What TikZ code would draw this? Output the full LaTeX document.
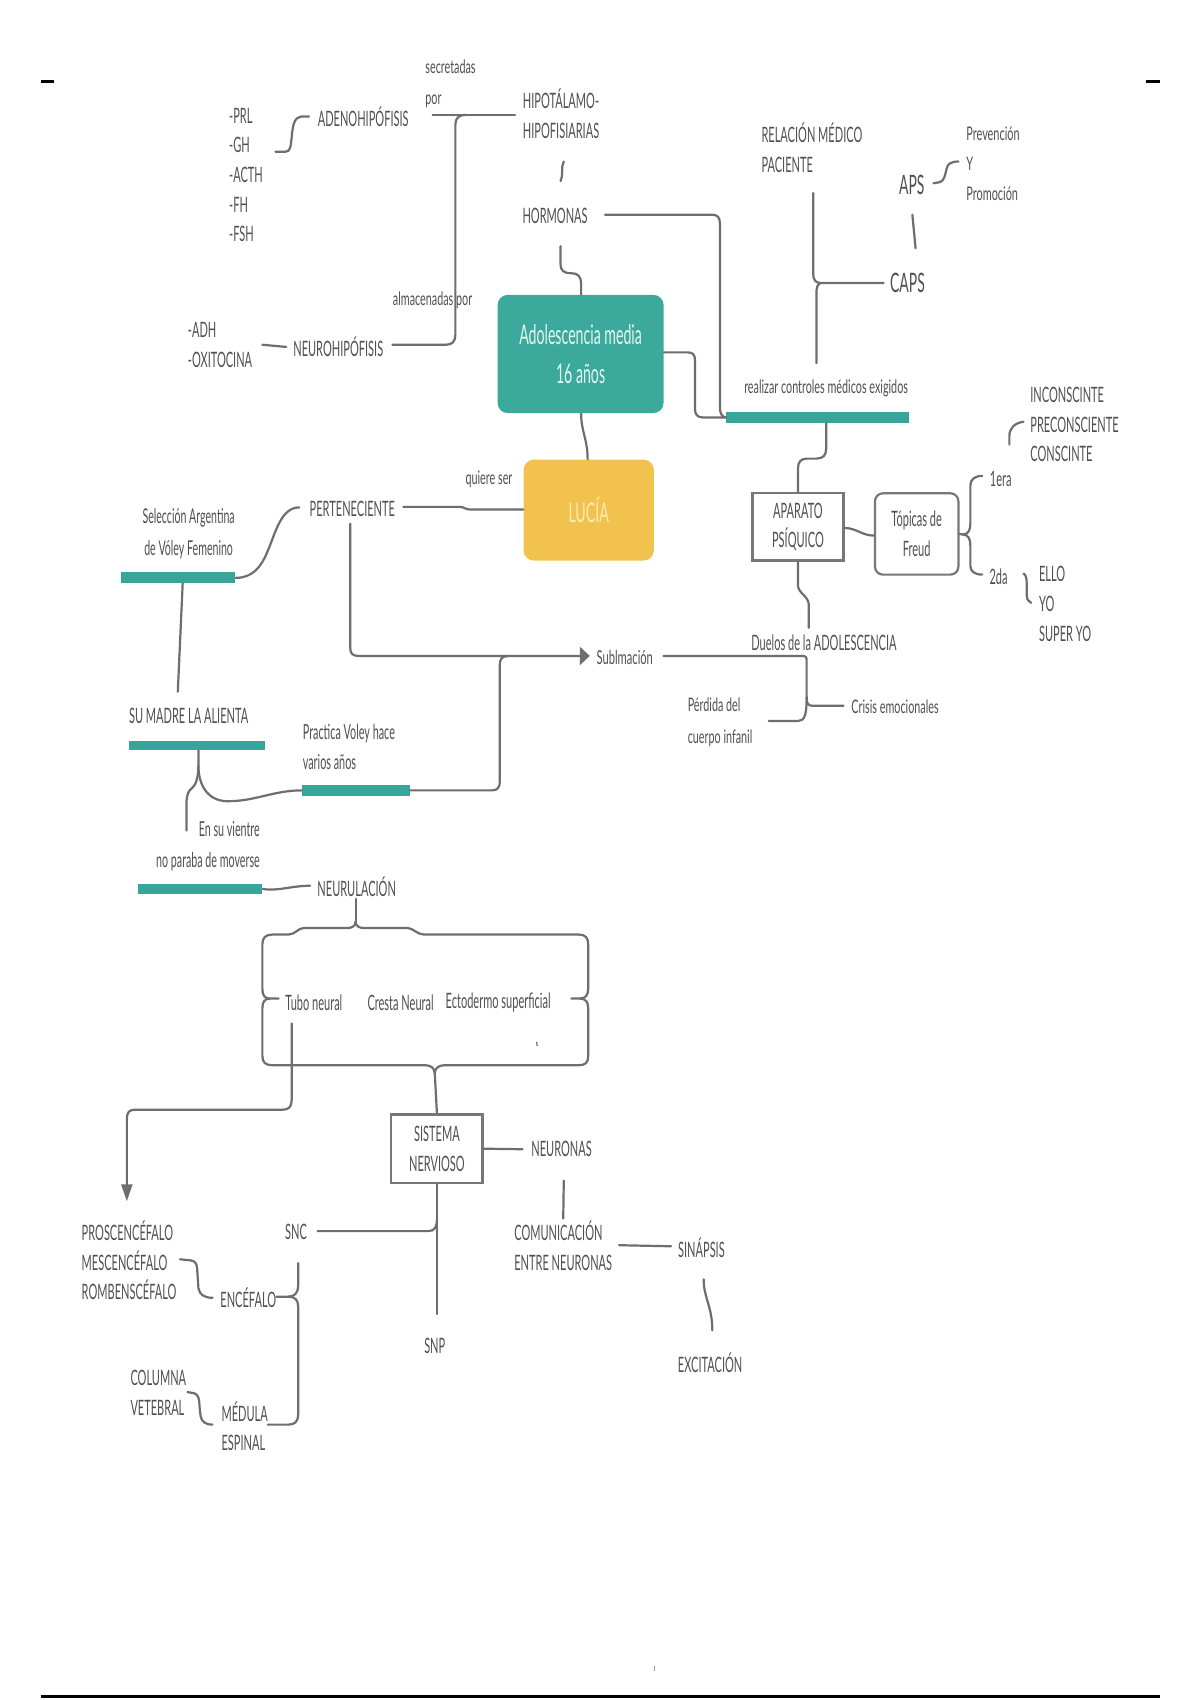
\documentclass[tikz,border=0pt]{standalone}
\usepackage{fontspec}
\setmainfont{Lato}[FakeStretch=0.52]
\newfontfamily\altfam{Lato}[FakeStretch=0.58]
\usetikzlibrary{arrows.meta}
\definecolor{txtgray}{HTML}{505050}
\definecolor{linegray}{HTML}{6E6E6E}
\definecolor{boxgray}{HTML}{777777}
\definecolor{tealc}{HTML}{3BA99C}
\definecolor{tealbarc}{HTML}{38A59B}
\definecolor{yellowc}{HTML}{F2C24F}
\definecolor{tealtxt}{HTML}{E4F6F2}
\definecolor{yellowtxt}{HTML}{FBEBB3}
\newcommand\myN{\fontsize{10.6}{14.9}\selectfont}
\newcommand\myS{\altfam\fontsize{9.3}{15.7}\selectfont}
\newcommand\myP{\altfam\fontsize{9.4}{14.9}\selectfont}
\newcommand\myB{\fontsize{13.6}{19.5}\selectfont}
\newcommand\myA{\fontsize{13.4}{15}\selectfont}
\tikzset{
  txt/.style={inner sep=0pt, text=txtgray, font=\myN},
  stxt/.style={txt, font=\myS},
  con/.style={draw=linegray, line width=1.1pt, line cap=round, line join=round},
  barn/.style={fill=tealbarc, inner sep=0pt},
  tealbox/.style={fill=tealc, rounded corners=5pt, text=tealtxt, font=\myB, align=center, inner sep=0pt},
  yellowbox/.style={fill=yellowc, rounded corners=5pt, text=yellowtxt, font=\myB, align=center, inner sep=0pt},
  sqbox/.style={draw=boxgray, line width=1.1pt, text=txtgray, font=\myN, align=center, inner sep=0pt},
  rbox/.style={sqbox, rounded corners=4pt},
}
\begin{document}
\begin{tikzpicture}[x=0.542pt, y=-0.542pt]
\fill[white] (0,0) rectangle (1107,1568);
\useasboundingbox (0,0) rectangle (1107,1568);

% ---------- boxes ----------
\node[tealbox, minimum width={153*0.542pt}, minimum height={109*0.542pt}] (adol) at (535.5,326.5) {Adolescencia media\\16 años};
\node[yellowbox, minimum width={120*0.542pt}, minimum height={93*0.542pt}] (lucia) at (543,470.5) {LUCÍA};
\node[sqbox, minimum width={84*0.542pt}, minimum height={62*0.542pt}] (apar) at (736,486) {APARATO\\PSÍQUICO};
\node[rbox, minimum width={77*0.542pt}, minimum height={75*0.542pt}] (topi) at (845.5,492.5) {Tópicas de\\Freud};
\node[sqbox, minimum width={84*0.542pt}, minimum height={63*0.542pt}] (sist) at (403,1059.5) {SISTEMA\\NERVIOSO};

% ---------- teal bars ----------
\node[barn, minimum width={168*0.542pt}, minimum height={10*0.542pt}] (breal) at (754,385) {};
\node[barn, minimum width={105*0.542pt}, minimum height={10*0.542pt}] (bsel) at (164.5,533) {};
\node[barn, minimum width={125*0.542pt}, minimum height={9*0.542pt}] (bmadre) at (181.5,687.5) {};
\node[barn, minimum width={99*0.542pt}, minimum height={10*0.542pt}] (bprac) at (328.5,729) {};
\node[barn, minimum width={115*0.542pt}, minimum height={9*0.542pt}] (bneur) at (184.5,820) {};

% ---------- texts ----------
\node[stxt, anchor=west, align=left] (sec) at (392,77.5) {secretadas\\por};
\node[txt, anchor=west, align=left, font=\fontsize{10.6}{14.8}\selectfont] (hlist) at (211,161.5) {-PRL\\-GH\\-ACTH\\-FH\\-FSH};
\node[txt] (adeno) at (335,108) {ADENOHIPÓFISIS};
\node[txt, anchor=west, align=left] (hipo) at (482,105) {HIPOTÁLAMO-\\HIPOFISIARIAS};
\node[txt] (horm) at (512,199) {HORMONAS};
\node[txt] (neuro) at (312,320) {NEUROHIPÓFISIS};
\node[txt, anchor=west, align=left] (adh) at (173,318) {-ADH\\-OXITOCINA};
\node[stxt] (alm) at (399,277) {almacenadas por};
\node[txt, anchor=west, align=left] (rel) at (702,136) {RELACIÓN MÉDICO\\PACIENTE};
\node[txt, font=\myA] (aps) at (841,171) {APS};
\node[txt, font=\myA] (caps) at (837,261) {CAPS};
\node[txt, font=\myP, anchor=west, align=left] (prev) at (891,151) {Prevención\\Y\\Promoción};
\node[stxt] (real) at (762,358) {realizar controles médicos exigidos};
\node[txt, anchor=west, align=left] (incon) at (950,391.5) {INCONSCINTE\\PRECONSCIENTE\\CONSCINTE};
\node[txt] (uno) at (923,442) {1era};
\node[txt] (dos) at (921,532) {2da};
\node[txt, anchor=west, align=left] (ello) at (958,557) {ELLO\\YO\\SUPER YO};
\node[txt] (duelos) at (760,593) {Duelos de la ADOLESCENCIA};
\node[txt, font=\altfam\fontsize{9.6}{12}\selectfont, anchor=west] (subl) at (550,606) {Sublmación};
\node[stxt, anchor=west] (crisis) at (785,652) {Crisis emocionales};
\node[stxt, anchor=west, align=left] (perd) at (634,666) {Pérdida del\\cuerpo infanil};
\node[txt] (pert) at (325,469) {PERTENECIENTE};
\node[stxt] (quiere) at (451,442) {quiere ser};
\node[txt, align=center, font=\fontsize{10.2}{16}\selectfont] (sel) at (174,492.5) {Selección Argentina\\de Vóley Femenino};
\node[txt] (madre) at (174,660) {SU MADRE LA ALIENTA};
\node[txt, anchor=west, align=left, font=\fontsize{10.4}{15.4}\selectfont] (prac) at (279,689) {Practica Voley hace\\varios años};
\node[txt, anchor=east, align=right, font=\fontsize{10.3}{15.6}\selectfont] (vient) at (240,780.5) {En su vientre\\no paraba de moverse};
\node[txt] (neurul) at (329,818) {NEURULACIÓN};
\node[txt] (tubo) at (289.5,925) {Tubo neural};
\node[txt] (cresta) at (369.5,925) {Cresta Neural};
\node[txt] (ecto) at (459.5,925) {Ectodermo superficial};
\node[txt] (neuronas) at (518,1060) {NEURONAS};
\node[txt, anchor=west, align=left] (comun) at (474,1149) {COMUNICACIÓN\\ENTRE NEURONAS};
\node[txt] (sinap) at (647,1151) {SINÁPSIS};
\node[txt] (excit) at (655,1257) {EXCITACIÓN};
\node[txt] (snc) at (273,1136) {SNC};
\node[txt] (snp) at (401,1241) {SNP};
\node[txt] (encef) at (229,1197) {ENCÉFALO};
\node[txt, anchor=west, align=left] (medula) at (204,1315.5) {MÉDULA\\ESPINAL};
\node[txt, anchor=west, align=left] (pros) at (75,1162.5) {PROSCENCÉFALO\\MESCENCÉFALO\\ROMBENSCÉFALO};
\node[txt, anchor=west, align=left] (col) at (120,1285) {COLUMNA\\VETEBRAL};

% ---------- connectors ----------
\draw[con] (475,106) -- (399,106);
\draw[con] (430,106) .. controls (423,106) and (420,109) .. (420,115) -- (420,309) .. controls (420,315) and (417,318) .. (411,318) -- (362,318);
\draw[con] (254,140) -- (263,140) .. controls (268,140) and (268,135) .. (269,127) .. controls (270,114) and (272,108) .. (278,107.5) -- (285,107.5);
\draw[con] (242,318) -- (264,320);
\draw[con] (520,149) .. controls (517,155) and (520,160) .. (517,167);
\draw[con] (517,227) -- (517,243) .. controls (517,250) and (520,252) .. (527,252) .. controls (533,252) and (536,255) .. (536,262) -- (adol.north -| 536,0);
\draw[con] (558,198) -- (657,198) .. controls (662,198) and (664,201) .. (664,206) -- (664,376) .. controls (664,381) and (666,385) .. (breal.west);
\draw[con] (adol.east |- 0,325) -- (634,325) .. controls (639,325) and (641,327) .. (641,332) -- (641,377) .. controls (641,382) and (643,385) .. (648,385) -- (breal.west);
\draw[con] (750,178) -- (750,252) .. controls (750,258) and (752,261) .. (757,261) -- (815,261);
\draw[con] (757,261) .. controls (754,262) and (753,265) .. (753,271) -- (753,335);
\draw[con] (841.5,198) -- (844.5,229);
\draw[con] (861,169) -- (867,168) .. controls (871,167) and (872,160) .. (873,156) .. controls (874,151) and (877,149) .. (884,149);
\draw[con] (931,410) -- (931,402) .. controls (931,395) and (936,390) .. (944,389);
\draw[con] (topi.east) -- (888,493) .. controls (893,493) and (895,489) .. (895,483) -- (895,448) .. controls (895,442) and (899,439) .. (906,439);
\draw[con] (888,493) .. controls (893,493) and (895,497) .. (895,503) -- (895,522) .. controls (895,527) and (899,530) .. (906,530);
\draw[con] (944,529) .. controls (946,530) and (947,533) .. (947,538) -- (947,549) .. controls (947,553) and (949,555) .. (951,556);
\draw[con] (762,390) -- (762,414) .. controls (762,420) and (759,423) .. (753,423) -- (744,423) .. controls (739,423) and (736,426) .. (736,432) -- (apar.north);
\draw[con] (apar.east |- 0,487) .. controls (790,487) and (795,494) .. (topi.west |- 0,494);
\draw[con] (apar.south) -- (736,540) .. controls (736,547) and (746,550) .. (746,558) -- (746,579);
\draw[con] (612,605) -- (740,605) .. controls (743,605) and (744,606) .. (744,609) -- (744,643);
\draw[con] (744,643) .. controls (744,649) and (745,651) .. (750,651) -- (778,651);
\draw[con] (744,643) .. controls (744,660) and (742,665) .. (736,665) -- (709,665);
\draw[con, -{Triangle[length=5pt,width=9pt]}] (323,483) -- (323,597) .. controls (323,603) and (325,605) .. (331,605) -- (544,605);
\draw[con] (bprac.east) -- (454,729) .. controls (459,729) and (461,726) .. (461,721) -- (461,613) .. controls (461,608) and (463,605) .. (469,605);
\draw[con] (372,467.5) -- (424,467.5) .. controls (428,467.5) and (429,470) .. (434,470) -- (lucia.west |- 0,470);
\draw[con] (adol.south -| 536,0) .. controls (536,398) and (542,405) .. (lucia.north -| 542,0);
\draw[con] (276,468) .. controls (259,468) and (254,492) .. (247,508) .. controls (241,523) and (233,533) .. (bsel.east);
\draw[con] (168.5,538) -- (164,638);
\draw[con] (183,692) -- (183,706) .. controls (183,726) and (193,739) .. (210,739) .. controls (236,739) and (252,729) .. (bprac.west);
\draw[con] (183,706) .. controls (183,716) and (181,724) .. (177,727) .. controls (174,729) and (172,733) .. (172,741) -- (172,766);
\draw[con] (bneur.east) .. controls (258,822) and (268,817) .. (286,817);
% brace box
\draw[con] (328,829) -- (328,850);
\draw[con] (328,850) .. controls (328,854) and (325,856) .. (320,856) -- (280,856) .. controls (275,856) and (272,862) .. (266,862) -- (251,862) .. controls (245,862) and (242,865) .. (242,871) -- (242,912) .. controls (242,918) and (244,921) .. (249,921) -- (257,921);
\draw[con] (249,921) .. controls (244,921) and (242,924) .. (242,930) -- (242,974) .. controls (242,980) and (245,982.5) .. (251,982.5) -- (392,982.5) .. controls (397,982.5) and (401,985) .. (401,990);
\draw[con] (328,850) .. controls (328,854) and (331,856) .. (336,856) -- (376,856) .. controls (381,856) and (385,862) .. (391,862) -- (534,862) .. controls (540,862) and (542.5,865) .. (542.5,871) -- (542.5,912) .. controls (542.5,918) and (540,921) .. (535,921) -- (527,921);
\draw[con] (535,921) .. controls (540,921) and (542.5,924) .. (542.5,930) -- (542.5,974) .. controls (542.5,980) and (540,982.5) .. (534,982.5) -- (410,982.5) .. controls (405,982.5) and (401,985) .. (401,990) -- (sist.north);
\draw[linegray, line width=0.6pt] (495,961) -- (495.5,965);
\draw[con, -{Triangle[length=8.5pt,width=5.5pt]}] (269,944) -- (269,1015) .. controls (269,1021) and (266,1023.5) .. (261,1023.5) -- (125,1023.5) .. controls (119,1023.5) and (117,1026) .. (117,1032) -- (117,1108);
\draw[con] (sist.east) -- (482,1060);
\draw[con] (520,1089) -- (519.5,1124);
\draw[con] (571,1148.5) -- (619,1149.5);
\draw[con] (649,1180) .. controls (649,1197) and (657,1205) .. (657,1227);
\draw[con] (sist.south) -- (403,1212);
\draw[con] (403,1124) .. controls (403,1132) and (401,1135.5) .. (395,1135.5) -- (293,1135.5);
\draw[con] (275,1165) -- (275,1186) .. controls (275,1192) and (272,1196) .. (266,1196) -- (255,1196);
\draw[con] (266,1196) .. controls (272,1196) and (275,1199) .. (275,1205) -- (275,1305) .. controls (275,1311) and (272,1314) .. (266,1314) -- (247,1314);
\draw[con] (166,1161.5) -- (176,1162.5) .. controls (181,1163) and (182,1167) .. (182,1173) -- (183,1188) .. controls (184,1194) and (188,1197) .. (196,1197);
\draw[con] (173,1284) -- (179,1285) .. controls (183,1286) and (184,1291) .. (184,1297) -- (185,1306) .. controls (186,1311) and (189,1314) .. (196,1314);
% page marks
\draw[black, line width=1.7pt] (38,75) -- (50,75);
\draw[black, line width=1.7pt] (1057,75) -- (1070,75);
\draw[black, line width=1.7pt] (38,1565) -- (1070,1565);
\draw[linegray!70, line width=0.6pt] (603.5,1537) -- (603.5,1541);
\end{tikzpicture}
\end{document}
